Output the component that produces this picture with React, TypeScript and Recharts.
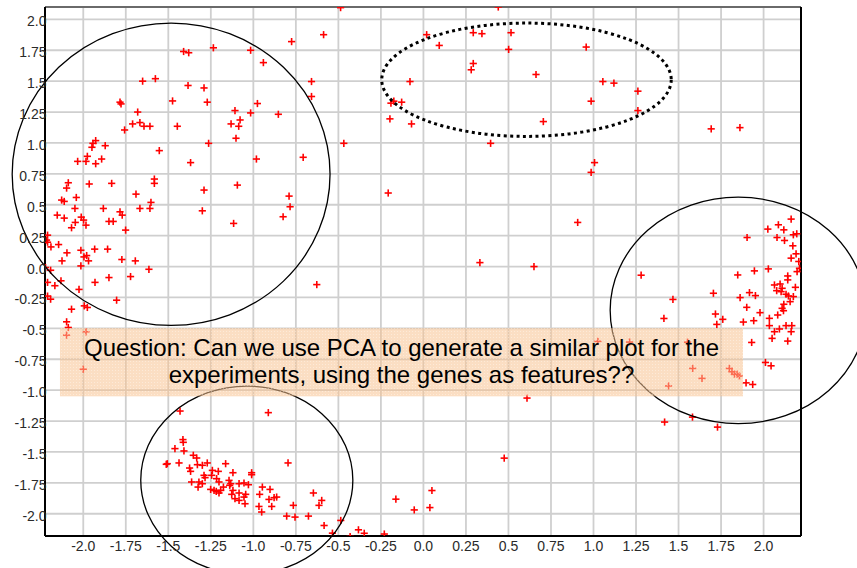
import React from 'react';
import {
  ScatterChart,
  Scatter,
  XAxis,
  YAxis,
  CartesianGrid,
  ReferenceArea,
  ReferenceLine,
} from 'recharts';

// ---------- tick values and labels ----------
const xTicks = [-2, -1.75, -1.5, -1.25, -1, -0.75, -0.5, -0.25, 0, 0.25, 0.5, 0.75, 1, 1.25, 1.5, 1.75, 2];
const xTickLabels = ['-2.0', '-1.75', '-1.5', '-1.25', '-1.0', '-0.75', '-0.5', '-0.25', '0.0', '0.25', '0.5', '0.75', '1.0', '1.25', '1.5', '1.75', '2.0'];
const yTicks = [-2, -1.75, -1.5, -1.25, -1, -0.75, -0.5, -0.25, 0, 0.25, 0.5, 0.75, 1, 1.25, 1.5, 1.75, 2];
const yTickLabels = ['-2.0', '-1.75', '-1.5', '-1.25', '-1.0', '-0.75', '-0.5', '-0.25', '0.0', '0.25', '0.5', '0.75', '1.0', '1.25', '1.5', '1.75', '2.0'];

const X_DOMAIN: [number, number] = [-2.225, 2.22];
const Y_DOMAIN: [number, number] = [-2.18, 2.1];

// ---------- data (x, y) ----------
const topLeftCluster: [number, number][] = [
  [-0.775, 1.82], [-1.41, 1.74], [-1.38, 1.73], [-1.235, 1.77], [-1.016, 1.75], [-0.941, 1.65],
  [-1.651, 1.5], [-1.576, 1.52], [-1.384, 1.465], [-1.29, 1.445], [-1.271, 1.33], [-1.475, 1.34],
  [-1.784, 1.33], [-1.778, 1.316], [-1.68, 1.25], [-1.71, 1.154], [-1.667, 1.165], [-1.643, 1.135],
  [-1.608, 1.135], [-1.757, 1.105], [-1.447, 1.135], [-1.108, 1.262], [-1.078, 1.186], [-1.131, 1.154],
  [-1.086, 1.135], [-1.016, 1.243], [-0.976, 1.319], [-0.853, 1.232], [-1.263, 0.997], [-1.102, 1.038],
  [-1.553, 0.938], [-1.369, 0.841], [-0.982, 0.87], [-1.871, 0.978], [-1.927, 1.019], [-1.943, 0.997],
  [-1.949, 0.965], [-2.033, 0.851], [-1.984, 0.851], [-1.976, 0.892], [-1.927, 0.832], [-1.892, 0.87],
  [-2.088, 0.678], [-2.098, 0.635], [-1.965, 0.668], [-1.833, 0.673], [-1.582, 0.708], [-1.582, 0.673],
  [-2.127, 0.538], [-2.112, 0.527], [-2.041, 0.559], [-2.049, 0.47], [-1.882, 0.47], [-1.69, 0.586],
  [-1.667, 0.47], [-1.608, 0.47], [-1.602, 0.519], [-1.784, 0.443], [-1.771, 0.416], [-2.153, 0.416],
  [-2.112, 0.392], [-2.047, 0.357], [-2.069, 0.314], [-2.012, 0.4], [-1.998, 0.376], [-1.984, 0.335],
  [-1.849, 0.365], [-1.824, 0.365], [-1.751, 0.295], [-1.29, 0.619], [-1.3, 0.451], [-1.094, 0.659],
  [-1.116, 0.349], [-0.79, 0.57], [-0.784, 0.484], [-0.825, 0.403], [-2.21, 0.254], [-2.216, 0.214],
  [-2.21, 0.197], [-2.19, 0.159], [-2.145, 0.178], [-2.096, 0.111], [-2.125, 0.046], [-2.014, 0.132],
  [-1.996, 0.078], [-1.98, 0.089], [-1.969, 0.046], [-2.014, 0.005], [-1.933, 0.141], [-1.857, 0.141],
  [-1.773, 0.057], [-1.694, 0.046], [-1.614, -0.022], [-2.222, -0.008], [-2.192, -0.03], [-1.849, -0.089],
  [-1.722, -0.081], [-2.21, -0.128], [-2.167, -0.155], [-2.131, -0.115], [-2.025, -0.185], [-1.931, -0.128],
  [-2.21, -0.239], [-2.192, -0.264], [-2.069, -0.345], [-1.994, -0.318], [-1.976, -0.331], [-1.804, -0.272],
  [-2.098, -0.447], [-2.088, -0.493], [-2.098, -0.555], [-1.984, -0.528], [-2.0, -0.831],
];

const topCluster: [number, number][] = [
  [0.019, 1.876], [0.093, 1.789], [0.293, 1.892], [0.344, 1.884], [0.515, 1.892], [0.501, 1.757],
  [0.293, 1.643], [0.281, 1.592], [0.662, 1.554], [-0.079, 1.497], [-0.191, 1.322], [-0.174, 1.338],
  [-0.128, 1.33], [-0.197, 1.195], [-0.07, 1.154], [0.705, 1.173], [0.957, 1.776], [1.055, 1.497],
  [1.12, 1.484], [1.261, 1.419], [0.986, 1.338], [1.261, 1.262],
];

const scatteredPoints: [number, number][] = [
  [-0.587, 1.876], [-0.658, 1.497], [-0.658, 1.376], [-0.468, 0.997], [-0.707, 0.884], [-0.207, 0.595],
  [-0.487, 2.095], [0.44, 2.1], [-0.627, -0.146], [0.332, 0.032], [0.65, 0.0], [0.907, 0.357],
  [0.395, 0.997], [1.006, 0.841], [0.986, 0.762], [1.692, 1.114], [1.861, 1.124], [0.609, -1.064],
  [0.475, -1.55], [-1.431, -1.169], [-0.912, -1.182],
];

const bottomCluster: [number, number][] = [
  [-1.414, -1.4], [-1.412, -1.422], [-1.461, -1.473], [-1.408, -1.492], [-1.512, -1.6], [-1.506, -1.595],
  [-1.437, -1.589], [-1.353, -1.527], [-1.333, -1.549], [-1.375, -1.63], [-1.369, -1.657], [-1.329, -1.603],
  [-1.3, -1.608], [-1.271, -1.589], [-1.163, -1.595], [-1.241, -1.649], [-1.206, -1.657], [-1.29, -1.689],
  [-1.284, -1.708], [-1.245, -1.689], [-1.216, -1.716], [-1.202, -1.743], [-1.12, -1.668], [-1.01, -1.668],
  [-1.01, -1.684], [-1.363, -1.743], [-1.32, -1.743], [-1.3, -1.757], [-1.325, -1.784], [-1.143, -1.73],
  [-1.133, -1.757], [-1.139, -1.77], [-1.084, -1.757], [-1.055, -1.751], [-1.029, -1.765], [-1.176, -1.784],
  [-1.192, -1.811], [-1.251, -1.803], [-1.218, -1.819], [-1.202, -1.832], [-1.231, -1.811], [-1.12, -1.811],
  [-1.127, -1.843], [-1.084, -1.832], [-1.045, -1.843], [-1.108, -1.878], [-1.084, -1.892], [-1.055, -1.865],
  [-1.049, -1.919], [-0.947, -1.784], [-0.902, -1.803], [-0.963, -1.843], [-0.908, -1.884], [-0.878, -1.87],
  [-0.863, -1.865], [-0.967, -1.941], [-0.951, -1.986], [-0.892, -1.941], [-0.796, -1.589], [-0.765, -1.932],
  [-0.804, -2.019], [-0.755, -2.027], [-0.676, -2.019], [-0.647, -1.832], [-0.598, -1.892], [-0.614, -1.932],
  [-0.584, -2.095], [-0.486, -2.054], [-0.535, -2.157], [-0.431, -2.184], [-0.382, -2.13], [-0.348, -2.158],
  [-0.23, -2.164], [-0.162, -1.882], [-0.054, -1.969], [0.038, -1.95], [0.05, -1.812],
];

const rightCluster: [number, number][] = [
  [2.162, 0.384], [2.087, 0.338], [2.119, 0.297], [2.025, 0.303], [2.175, 0.257], [2.195, 0.265],
  [1.903, 0.235], [2.079, 0.235], [2.123, 0.211], [2.172, 0.168], [2.191, 0.103], [2.162, 0.068],
  [2.207, 0.041], [2.211, -0.014], [2.197, -0.041], [2.028, -0.019], [1.946, -0.035], [1.848, -0.068],
  [2.142, -0.076], [2.142, -0.108], [2.064, -0.149], [2.097, -0.141], [2.109, -0.176], [2.077, -0.195],
  [2.103, -0.203], [2.187, -0.168], [2.132, -0.224], [2.146, -0.238], [2.175, -0.243], [1.705, -0.216],
  [1.917, -0.211], [1.952, -0.235], [1.862, -0.251], [2.156, -0.284], [2.119, -0.305], [2.109, -0.338],
  [2.117, -0.357], [1.901, -0.33], [1.979, -0.373], [2.083, -0.392], [2.034, -0.419], [1.942, -0.438],
  [1.881, -0.449], [1.717, -0.384], [1.76, -0.427], [1.725, -0.468], [2.034, -0.478], [2.132, -0.478],
  [2.166, -0.478], [2.093, -0.505], [2.064, -0.527], [2.162, -0.527], [2.05, -0.581], [2.142, -0.603],
  [1.93, -0.614], [2.011, -0.776], [2.044, -0.803], [1.897, -0.941], [1.936, -0.954], [1.583, -0.824],
  [1.638, -0.905], [1.799, -0.824], [1.814, -0.851], [1.828, -0.87], [1.844, -0.87], [1.858, -0.886],
  [1.28, -0.07], [1.467, -0.266], [1.414, -0.42], [1.026, -0.605], [1.212, -0.611], [1.553, -0.612],
  [1.441, -0.966], [1.418, -1.258], [1.582, -1.218], [1.729, -1.299],
];

// ---------- annotations (data units) ----------
const ellipses = [
  { x1: -2.418, x2: -0.549, y1: 1.97, y2: -0.476, dotted: false },
  { x1: -0.245, x2: 1.457, y1: 1.97, y2: 1.053, dotted: true },
  { x1: 1.098, x2: 2.604, y1: 0.562, y2: -1.271, dotted: false },
  { x1: -1.662, x2: -0.415, y1: -0.967, y2: -2.49, dotted: false },
];

const questionBox = { x1: -2.137, x2: 1.879, y1: -0.498, y2: -1.05 };
const questionLines = [
  'Question: Can we use PCA to generate a similar plot for the',
  'experiments, using the genes as features??',
];

const FONT = '"Liberation Sans", Arial, Helvetica, sans-serif';

const allPoints = [...topLeftCluster, ...topCluster, ...scatteredPoints, ...bottomCluster, ...rightCluster].map(
  ([x, y]) => ({ x, y })
);

const PlusMarker = (p: any) => {
  const { cx, cy } = p;
  if (cx == null || cy == null) return <g />;
  const s = 3.6;
  return (
    <g>
      <line x1={cx - s} x2={cx + s} y1={cy} y2={cy} stroke="#ff0000" strokeWidth={1.6} />
      <line x1={cx} x2={cx} y1={cy - s} y2={cy + s} stroke="#ff0000" strokeWidth={1.6} />
    </g>
  );
};

const XTick = (p: any) => {
  const { x, y, payload, index } = p;
  const i = xTicks.indexOf(payload.value);
  return (
    <text x={x} y={y + 14.5} textAnchor="middle" fontSize={14} fontFamily={FONT} fill="#2a2a2a">
      {xTickLabels[i >= 0 ? i : index]}
    </text>
  );
};

const YTick = (p: any) => {
  const { x, y, payload, index } = p;
  const i = yTicks.indexOf(payload.value);
  return (
    <text x={x + 1.5} y={y + 7} textAnchor="end" fontSize={14} fontFamily={FONT} fill="#2a2a2a">
      {yTickLabels[i >= 0 ? i : index]}
    </text>
  );
};

const makeEllipse = (dotted: boolean) => (p: any) => {
  const { x, y, width, height } = p;
  return (
    <ellipse
      cx={x + width / 2}
      cy={y + height / 2}
      rx={width / 2}
      ry={height / 2}
      fill="none"
      stroke="#000"
      strokeWidth={dotted ? 3 : 1.3}
      strokeDasharray={dotted ? '3 3.4' : undefined}
    />
  );
};

const QuestionShape = (p: any) => {
  const { x, y, width, height } = p;
  const cx = x + width / 2;
  return (
    <g>
      <defs>
        <pattern id="qdots" width="3" height="3" patternUnits="userSpaceOnUse">
          <rect x="0" y="0" width="3" height="3" fill="#f8c392" fillOpacity={0.55} />
          <rect x="1" y="1" width="1" height="1" fill="#ffffff" fillOpacity={0.35} />
        </pattern>
      </defs>
      <rect x={x} y={y} width={width} height={height} fill="url(#qdots)" />
      <text x={cx} y={y + 27.6} textAnchor="middle" fontSize={24} fontFamily={FONT} fill="#000">
        {questionLines[0]}
      </text>
      <text x={cx} y={y + 55.3} textAnchor="middle" fontSize={24} fontFamily={FONT} fill="#000">
        {questionLines[1]}
      </text>
    </g>
  );
};

export default function App() {
  return (
    <div style={{ position: 'absolute', left: 0, top: 0, width: 857, height: 568, background: '#fff' }}>
      <ScatterChart
        width={857}
        height={568}
        margin={{ top: 7, right: 56, bottom: 0, left: 0 }}
        style={{ fontFamily: FONT }}
      >
        <CartesianGrid stroke="#cfcfcf" strokeWidth={1.8} />
        <XAxis
          type="number"
          dataKey="x"
          domain={X_DOMAIN}
          ticks={xTicks}
          allowDataOverflow
          interval={0}
          height={32}
          tickLine={false}
          tickSize={0}
          tickMargin={0}
          axisLine={{ stroke: '#000', strokeWidth: 2 }}
          tick={<XTick />}
        />
        <YAxis
          type="number"
          dataKey="y"
          domain={Y_DOMAIN}
          ticks={yTicks}
          allowDataOverflow
          interval={0}
          width={45}
          tickLine={false}
          tickSize={0}
          tickMargin={0}
          axisLine={{ stroke: '#000', strokeWidth: 2 }}
          tick={<YTick />}
        />
        <ReferenceLine y={Y_DOMAIN[1]} stroke="#6a6a6a" strokeWidth={2} ifOverflow="visible" />
        <ReferenceLine x={X_DOMAIN[1]} stroke="#000" strokeWidth={2} ifOverflow="visible" />
        <Scatter data={allPoints} isAnimationActive={false} shape={<PlusMarker />} />
        {ellipses.map((e, i) => (
          <ReferenceArea
            key={i}
            x1={e.x1}
            x2={e.x2}
            y1={e.y1}
            y2={e.y2}
            ifOverflow="visible"
            shape={makeEllipse(e.dotted)}
            zIndex={1000}
          />
        ))}
        <ReferenceArea
          x1={questionBox.x1}
          x2={questionBox.x2}
          y1={questionBox.y1}
          y2={questionBox.y2}
          ifOverflow="visible"
          shape={QuestionShape}
          zIndex={1000}
        />
      </ScatterChart>
    </div>
  );
}
